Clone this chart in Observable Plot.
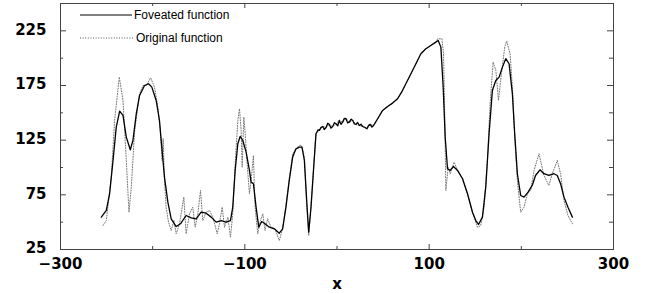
<!DOCTYPE html>
<html>
<head>
<meta charset="utf-8">
<script src="https://cdn.jsdelivr.net/npm/d3@7"></script>
<script src="https://cdn.jsdelivr.net/npm/@observablehq/plot@0.6"></script>
<style>
  html, body { margin: 0; padding: 0; background: #fff; }
  #wrap { position: relative; width: 649px; height: 294px; }
  #legend { position: absolute; left: 0; top: 0; pointer-events: none; }
</style>
</head>
<body>
<div id="wrap"></div>
<script>
// ---- data ----
const seriesNames = ["Foveated function", "Original function"];

const foveatedX = [-255.7,-250.3,-246.7,-243,-239.5,-235.8,-232.2,-228.6,-224.3,-221.4,-217.8,-214.2,-208.8,-204.5,-200.9,-196.2,-192.6,-190.1,-187.2,-183.5,-179.9,-174.5,-169.8,-163.7,-158.2,-152.8,-147.4,-142,-136.5,-131.1,-125.7,-120.3,-115.6,-113.1,-110.5,-107.6,-105.1,-102.2,-98.6,-95,-93.2,-90.7,-87.8,-84.9,-81.7,-78.1,-73.4,-68,-62.6,-59,-55.4,-51.8,-48.1,-44.5,-40.9,-38,-35.4,-32.9,-30.7,-28.2,-25.3,-22.8,-20.5,-19.1,-17.5,-15.5,-13.8,-11.9,-10,-8.3,-6.5,-4.7,-2.8,-1.1,0.8,2.5,4.3,6.1,8,9.8,11.6,13.4,15.3,17.1,18.9,20.6,22.4,24.2,26,27.8,30,32.5,34.3,36.1,37.9,39.7,41.9,44.1,49.5,54.9,60.3,65.7,70.1,74.7,80.2,85.6,91,96.4,101.8,107.2,109.8,112.7,115.2,117.4,119.9,122.8,126.4,130.8,136.2,141.6,147,150.6,153.5,157.8,161.4,165,168.6,172.3,175.9,179.5,183.1,186.7,190.3,192.8,195.7,199.3,202.9,207.3,211.8,215.4,220.2,224.5,229.9,235.4,239,242.6,246.3,250.6,255.4];
const foveatedY = [54.6,60.7,76,106.4,136.9,151.5,147.6,127.8,116.2,124.7,149.1,165.9,175,176.6,173.5,161.3,143,118.6,91.2,68.3,53.1,46,48.5,56.1,54,53.1,59.1,58.2,54.6,50,51.5,50,51.5,63.7,97.3,121.7,128.4,124.7,114,97.3,86.6,85.1,63.7,45.4,50.6,48.5,45.4,43.9,39.9,43.9,63.7,88.1,109.5,117.1,118.6,118.6,106.4,69.8,40.8,63.7,100.3,130.9,134.5,133.9,136.5,137.5,134.8,136.6,140.5,139.4,136,137.5,141,140,138.2,143,139.5,141.5,145,144.6,140.8,141.5,144.2,143,139.8,139.4,141.2,138.4,139.6,137.5,136.8,135.4,138.5,139.4,137,138.4,141.5,144.6,152.2,155.8,158.9,162.9,168.9,176.6,185.7,194.9,204,208.6,211.6,214.7,216.2,210.1,173.5,127.7,98.8,97.3,100.9,97.3,89.7,76,59.1,51.5,47.9,54.6,82,130.9,170.5,179.6,182.7,191.8,199.5,194.9,167.4,130.9,94.3,74.4,72.9,77.4,83.6,92.7,97.9,94.3,92.7,94.3,92.7,85.1,72.9,63.7,54.6];

const originalX = [-253.9,-250.3,-244.9,-241.3,-236.2,-232.2,-228.6,-225.7,-223.2,-219.5,-214.2,-210.5,-206.9,-202.2,-198,-194.4,-191.8,-189.7,-188.6,-187.2,-185.4,-182.8,-179.9,-177,-174.5,-170.9,-166.2,-163.7,-160.1,-156.5,-153.9,-151,-148.1,-145.6,-142,-138.3,-134.7,-130,-127.5,-124.6,-122,-118.4,-115.6,-113.1,-110.5,-107.6,-105.8,-104,-102.9,-101.1,-99.6,-97.5,-95,-93.2,-90.7,-88.9,-86,-83.1,-80.5,-78.1,-75.2,-71.6,-67.3,-62.6,-59,-55.4,-51.8,-48.1,-44.5,-40.9,-38.4,-35.4,-32.9,-30.7,-28.2,-25.3,-22.8,-19.1,-15.5,-11.9,-8.3,-4.7,-1.1,2.5,6.1,9.8,13.4,17.1,20.6,24.2,27.8,32.5,36.1,39.7,44.1,49.5,54.9,60.3,65.7,70.1,74.7,80.2,85.6,91,96.4,101.8,107.2,109.1,113.8,115.6,117,118.1,120.6,122.8,127.1,130.8,136.2,141.6,147,152.4,155.9,159.6,163.2,166.1,169.4,172.3,175.2,178.4,182,184.1,187.8,190.3,192.8,195.7,199.3,202.9,206.6,210.2,213.8,219.2,224.5,229.9,233.6,239,242.6,246.3,250.6,255.4];
const originalY = [47,51.5,91.2,143,182.7,161.3,106.4,59.1,82,133.9,167.4,175,175,182.1,173.5,155.2,133.9,106.4,126.3,88.1,63.7,50,42.4,51.5,39.4,48.5,72.9,39.4,57.6,63.7,45.4,57.6,79,51.5,59.1,60.7,54.6,39.4,48.5,63.7,45.4,54.6,36.3,57.6,103.4,143,153.7,133.9,100.3,146,130.9,103.4,76,88.1,111,63.7,39.4,51.5,57.6,42.4,53.1,45.4,43.9,33.2,43.9,65.2,89.7,112.5,117.1,120.2,120.2,109.5,66.7,37.8,65.2,100.3,131,134.2,137.8,136.4,139.6,137.2,140.2,143.2,141.3,144.8,141.3,143.2,139.2,138.6,137.3,135.6,139.2,138.6,144.4,152.4,155.6,159.1,162.7,169.1,176.4,185.9,194.7,204.2,208.4,211.8,214.5,217.7,217.7,204,143,79,100.3,94.3,104.9,97.3,89.7,76,59.1,45.4,46.9,63.7,106.4,158.3,196.4,189.1,161.3,185.7,210.1,215.6,204,173.5,127.8,88.1,59.1,63.7,76,79,97.3,112.6,92.7,83.6,94.3,106.4,94.3,69.8,56.1,48.5];

const xTickLabels = [-300, -100, 100, 300];
const xMinorTicks = [-200, 0, 200];
const yTickLabels = [25, 75, 125, 175, 225];
const yMinorTicks = [50, 100, 150, 200];
const xAxisTitle = "x";

// ---- build tables ----
const foveated = foveatedX.map((x, i) => ({x, y: foveatedY[i]}));
const original = originalX.map((x, i) => ({x, y: originalY[i]}));

const W = 649, H = 294;
const mT = 3, mB = 45, mL = 60, mR = 36;
const fH = H - mT - mB, fW = W - mL - mR;
const frameColor = "#444";
const font = "'DejaVu Sans', sans-serif";

const chart = Plot.plot({
  width: W,
  height: H,
  marginTop: mT,
  marginBottom: mB,
  marginLeft: mL,
  marginRight: mR,
  style: {fontFamily: font, fontSize: "15px", fontWeight: "bold", color: "#000", background: "#fff"},
  x: {domain: [-300, 300]},
  y: {domain: [25, 250]},
  marks: [
    // tick labels
    Plot.axisX({ticks: xTickLabels, tickSize: 0, tickPadding: 9, label: null, fontSize: 15, fill: "#000"}),
    Plot.axisY({ticks: yTickLabels, tickSize: 0, tickPadding: 14, dy: -1, label: null, fontSize: 15, fill: "#000"}),
    // inward ticks: bottom / top
    Plot.tickX(xTickLabels, {insetTop: fH - 5, stroke: frameColor}),
    Plot.tickX(xMinorTicks, {insetTop: fH - 3, stroke: frameColor}),
    Plot.tickX(xTickLabels, {insetBottom: fH - 5, stroke: frameColor}),
    Plot.tickX(xMinorTicks, {insetBottom: fH - 3, stroke: frameColor}),
    // inward ticks: left / right
    Plot.tickY(yTickLabels, {insetRight: fW - 6, stroke: frameColor}),
    Plot.tickY(yMinorTicks, {insetRight: fW - 3, stroke: frameColor}),
    Plot.tickY(yTickLabels, {insetLeft: fW - 6, stroke: frameColor}),
    Plot.tickY(yMinorTicks, {insetLeft: fW - 4, stroke: frameColor}),
    // data
    Plot.line(original, {x: "x", y: "y", stroke: "#777", strokeWidth: 1, strokeDasharray: "1,1.6"}),
    Plot.line(foveated, {x: "x", y: "y", stroke: "#000", strokeWidth: 1.3}),
    Plot.frame({stroke: frameColor}),
    Plot.text([xAxisTitle], {frameAnchor: "bottom", dy: 39, fontSize: 15, fontWeight: "bold", fill: "#000", text: d => d})
  ]
});

const wrap = document.getElementById("wrap");
wrap.appendChild(chart);

// ---- legend inside the frame, top-left ----
const ns = "http://www.w3.org/2000/svg";
const leg = document.createElementNS(ns, "svg");
leg.setAttribute("id", "legend");
leg.setAttribute("width", 260);
leg.setAttribute("height", 50);
const rows = [
  {name: seriesNames[0], y: 15, x2: 132, stroke: "#000", width: 1, dash: null},
  {name: seriesNames[1], y: 38, x2: 134, stroke: "#555", width: 1, dash: "1,1.6"}
];
rows.forEach(r => {
  const l = document.createElementNS(ns, "line");
  l.setAttribute("x1", 80); l.setAttribute("x2", r.x2);
  l.setAttribute("y1", r.y); l.setAttribute("y2", r.y);
  l.setAttribute("stroke", r.stroke);
  l.setAttribute("stroke-width", r.width);
  if (r.dash) l.setAttribute("stroke-dasharray", r.dash);
  leg.appendChild(l);
  const t = document.createElementNS(ns, "text");
  t.setAttribute("x", r.x2 + 2);
  t.setAttribute("y", r.y);
  t.setAttribute("dy", "0.35em");
  t.setAttribute("font-family", "'Liberation Sans', Arial, sans-serif");
  t.setAttribute("font-size", 12);
  t.textContent = r.name;
  leg.appendChild(t);
});
wrap.appendChild(leg);
</script>
</body>
</html>
